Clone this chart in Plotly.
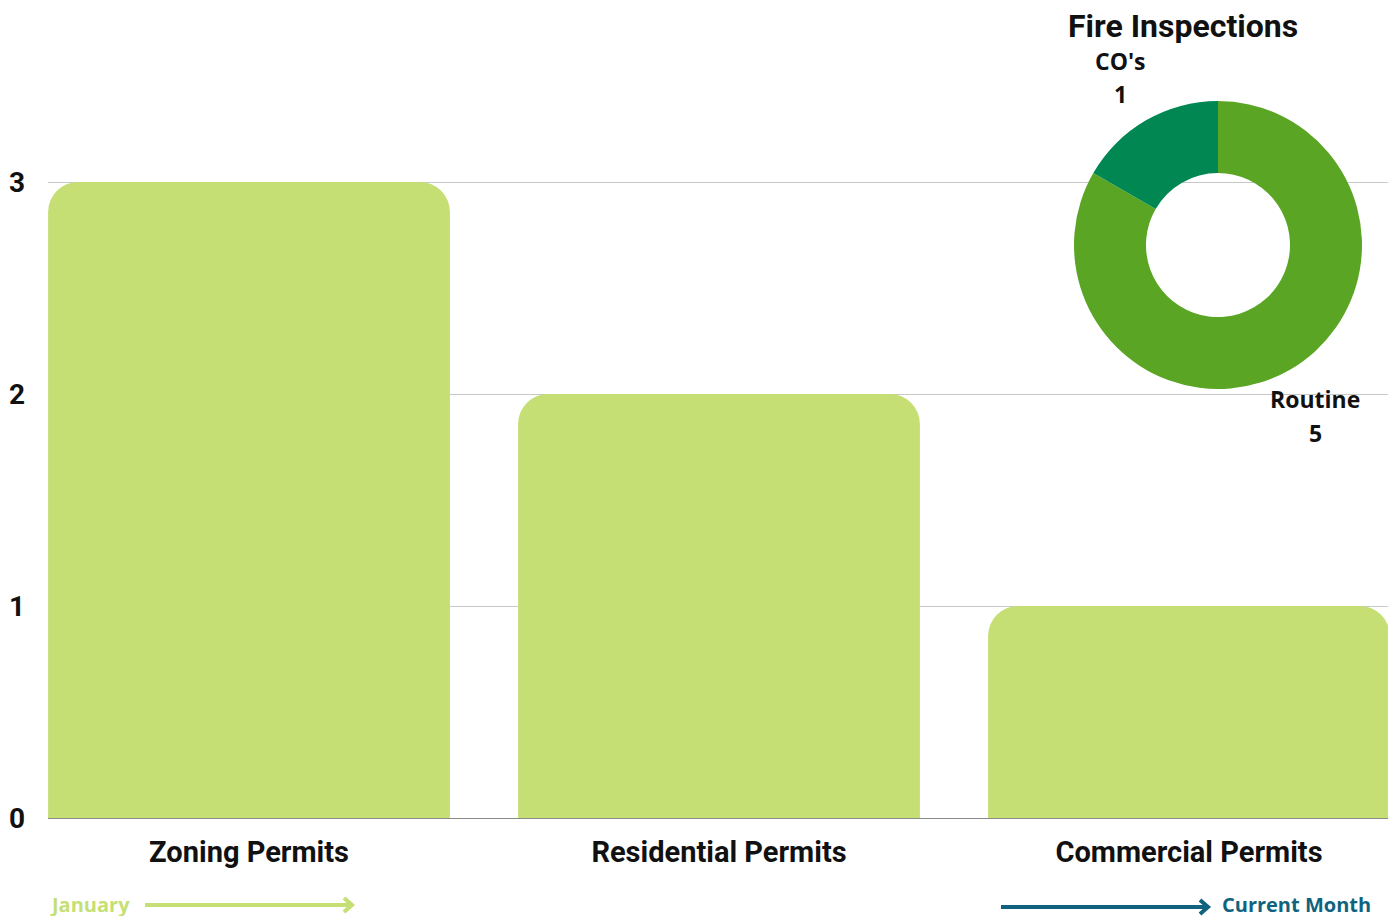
import plotly.graph_objects as go

# ---- data ----
categories = ["Zoning Permits", "Residential Permits", "Commercial Permits"]
permit_values = [3, 2, 1]
y_tick_values = [0, 1, 2, 3]
fire_title = "Fire Inspections"
fire_labels = ["Routine", "CO's"]
fire_values = [5, 1]
start_label = "January"
end_label = "Current Month"

# ---- layout constants (screen pixels; page body has an 8px offset) ----
OFF = 8
W, H = 1396, 916
PLOT_L, PLOT_R, PLOT_T, PLOT_B = 48, 1390, 30, 818
ML = PLOT_L - OFF
MR = W - (PLOT_R - OFF)
MT = PLOT_T - OFF
MB = H - (PLOT_B - OFF)
PW, PH = PLOT_R - PLOT_L, PLOT_B - PLOT_T


def px(x):
    return (x - PLOT_L) / PW


def py(y):
    return (PLOT_B - y) / PH


BAR = "#c5df75"
TEAL = "#10637f"
FONT = "Roboto"
LABEL_FONT = "Open Sans"

fig = go.Figure()
fig.add_trace(go.Bar(
    x=categories, y=permit_values,
    marker=dict(color=BAR, cornerradius=30, line=dict(width=0)),
    width=0.855, hoverinfo="x+y", showlegend=False,
))

fig.add_trace(go.Pie(
    labels=fire_labels, values=fire_values,
    hole=0.5, sort=False, direction="clockwise", rotation=0,
    marker=dict(colors=["#5aa624", "#008752"], line=dict(width=0)),
    textinfo="none", showlegend=False,
    domain=dict(x=[px(1074), px(1362)], y=[py(389), py(101)]),
))

annotations = [
    dict(text=fire_title, x=px(1183), y=py(26), xref="paper", yref="paper",
         showarrow=False, font=dict(family=FONT, size=32, color="#111", weight="bold"),
         xanchor="center", yanchor="middle"),
]
# pie labels: (x, y of name, y of value)
pie_label_pos = [(1315, 399, 433), (1120, 61, 94)]
for lab, val, (lx, ly1, ly2) in zip(fire_labels, fire_values, pie_label_pos):
    for txt, ly in ((lab, ly1), (str(val), ly2)):
        annotations.append(dict(
            text=txt, x=px(lx), y=py(ly), xref="paper", yref="paper",
            showarrow=False, align="center",
            font=dict(family=LABEL_FONT, size=23, color="#111", weight="bold"),
            xanchor="center", yanchor="middle"))

annotations.append(dict(text=start_label, x=px(48), y=py(904), xref="paper", yref="paper",
                        showarrow=False, xanchor="left", yanchor="middle",
                        font=dict(family=LABEL_FONT, size=20, color=BAR, weight="bold")))
annotations.append(dict(text=end_label, x=px(1373), y=py(904), xref="paper", yref="paper",
                        showarrow=False, xanchor="right", yanchor="middle",
                        font=dict(family=LABEL_FONT, size=20, color=TEAL, weight="bold")))


def arrow_path(x0, x1, y):
    return (f"M {px(x0)},{py(y)} L {px(x1)},{py(y)} "
            f"M {px(x1 - 8)},{py(y - 7)} L {px(x1)},{py(y)} L {px(x1 - 8)},{py(y + 7)}")


shapes = [
    dict(type="path", xref="paper", yref="paper", path=arrow_path(145, 352, 905),
         line=dict(color=BAR, width=4)),
    dict(type="path", xref="paper", yref="paper", path=arrow_path(1001, 1208, 907),
         line=dict(color=TEAL, width=4)),
]

fig.update_layout(
    width=W, height=H,
    margin=dict(l=ML, r=MR, t=MT, b=MB, autoexpand=False),
    paper_bgcolor="white", plot_bgcolor="white",
    font=dict(family=FONT, color="#111"),
    annotations=annotations, shapes=shapes,
    xaxis=dict(range=[-0.4277, 2.4277], showgrid=False, zeroline=False,
               showline=True, linecolor="#8a8a8a", linewidth=1, automargin=False,
               tickfont=dict(family=FONT, size=29, color="#111", weight="bold"),
               ticks="", ticklabelstandoff=8, fixedrange=True),
    yaxis=dict(range=[0, (PLOT_B - PLOT_T) / 212], tickvals=y_tick_values,
               showgrid=True, gridcolor="#c8c8c8", gridwidth=1, zeroline=False,
               showline=False, automargin=False,
               tickfont=dict(family=FONT, size=28, color="#111", weight="bold"),
               ticks="", ticklabelstandoff=22, fixedrange=True),
)

fig.write_html("out.html")
